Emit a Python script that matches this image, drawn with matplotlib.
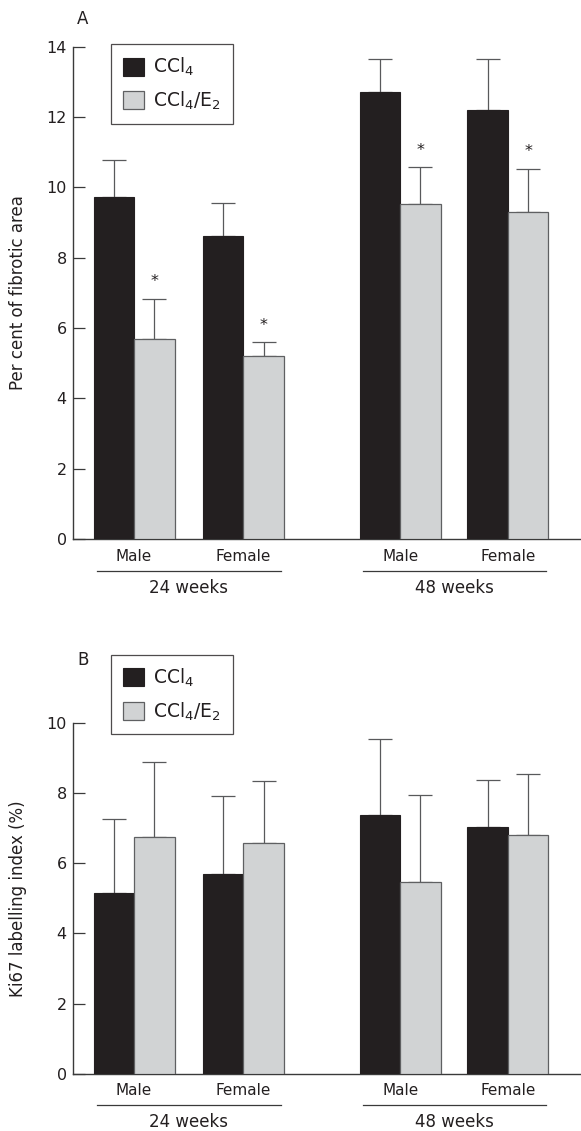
import matplotlib
matplotlib.use("Agg")
import matplotlib.pyplot as plt
import numpy as np
from matplotlib.patches import Patch
from matplotlib.lines import Line2D

plt.rcParams['font.family'] = ['DejaVu Sans']
plt.rcParams['mathtext.fontset'] = 'dejavusans'

# ---------------- data ----------------
groups = ["Male", "Female", "Male", "Female"]
periods = ["24 weeks", "48 weeks"]
series_labels = ["CCl$_4$", "CCl$_4$/E$_2$"]

# Panel A: per cent of fibrotic area
fib_ccl4 = [9.72, 8.61, 12.72, 12.20]
fib_ccl4_err = [1.07, 0.94, 0.92, 1.46]
fib_e2 = [5.69, 5.21, 9.54, 9.30]
fib_e2_err = [1.14, 0.38, 1.03, 1.22]
fib_e2_signif = [True, True, True, True]

# Panel B: Ki67 labelling index (%)
ki_ccl4 = [5.16, 5.69, 7.38, 7.04]
ki_ccl4_err = [2.11, 2.21, 2.15, 1.32]
ki_e2 = [6.74, 6.58, 5.47, 6.79]
ki_e2_err = [2.15, 1.75, 2.46, 1.76]

# ---------------- style ----------------
W, H = 581, 1131
DPI = 100
BLACK = "#231f20"
GRAY = "#d1d3d4"
GRAY_EDGE = "#5f6062"
ERR_COL = "#58595b"
TXT = "#231f20"
FS = 11.5

fig = plt.figure(figsize=(W / DPI, H / DPI), dpi=DPI)

pair_centers = np.array([1.5, 4.2, 8.07, 10.73])
bw = 1.0
XMAX = (581 - 73.3) / 40.5


def px_axes(left_px, top_px, bottom_px):
    return [left_px / W, 1 - bottom_px / H, 1 - left_px / W, (bottom_px - top_px) / H]


def panel(rect, ymax, yticks, v1, e1, v2, e2, signif, ylabel, letter, letter_y_px,
          legend_top_px, axis_px):
    ax = fig.add_axes(rect)
    x1 = pair_centers - bw / 2
    x2 = pair_centers + bw / 2
    ax.bar(x1, v1, width=bw, color=BLACK, edgecolor=BLACK, linewidth=0.8, zorder=3)
    ax.bar(x2, v2, width=bw, color=GRAY, edgecolor=GRAY_EDGE, linewidth=0.9, zorder=3)
    cap_pts = 12.2 * 72 / DPI
    for xs, vs, es in ((x1, v1, e1), (x2, v2, e2)):
        ax.errorbar(xs, vs, yerr=[np.zeros(len(vs)), es], fmt='none', ecolor=ERR_COL,
                    elinewidth=0.9, capsize=cap_pts, capthick=0.9, zorder=2)
    if signif is not None:
        for xi, vi, ei, s in zip(x2, v2, e2, signif):
            if s:
                ax.annotate("*", (xi, vi + ei + 0.7), xytext=(0, -8.5),
                            textcoords="offset points", ha="center", va="baseline",
                            fontsize=FS, color=TXT)
    ax.set_xlim(0, XMAX)
    ax.set_ylim(0, ymax)
    ax.set_yticks(yticks)
    ax.set_xticks([])
    for s in ("top", "right"):
        ax.spines[s].set_visible(False)
    for s in ("left", "bottom"):
        ax.spines[s].set_color("#3a3a3a")
        ax.spines[s].set_linewidth(1.0)
    ax.tick_params(axis="y", direction="in", length=8.5, width=0.9, color="#3a3a3a",
                   pad=4.8, labelsize=FS, labelcolor=TXT)

    ax_h_px = axis_px[1] - axis_px[0]
    bt = ax.get_xaxis_transform()

    def fy(px_below):
        return -px_below / ax_h_px

    for xc, g in zip(pair_centers, groups):
        ax.text(xc, fy(axis_px[2]), g, transform=bt, ha="center", va="center",
                fontsize=11, color=TXT, clip_on=False)
    for k, p in enumerate(periods):
        a, b = pair_centers[2 * k], pair_centers[2 * k + 1]
        ax.add_line(Line2D([a - 0.915, b + 0.93], [fy(axis_px[3])] * 2, transform=bt,
                           color="#3a3a3a", lw=0.9, clip_on=False))
        ax.text((a + b) / 2, fy(axis_px[4]), p, transform=bt, ha="center", va="center",
                fontsize=FS + 0.5, color=TXT, clip_on=False)

    fig.text(18 / W, 1 - (axis_px[0] + axis_px[1]) / 2 / H, ylabel, rotation=90,
             ha="center", va="center", fontsize=FS + 0.5, color=TXT)
    fig.text(83 / W, 1 - letter_y_px / H, letter, ha="center", va="center",
             fontsize=FS + 0.5, color=TXT)

    handles = [Patch(facecolor=BLACK, edgecolor=BLACK, linewidth=0.8),
               Patch(facecolor=GRAY, edgecolor=GRAY_EDGE, linewidth=0.9)]
    leg = fig.legend(handles, series_labels, loc="upper left",
                     bbox_to_anchor=(111 / W, 1 - legend_top_px / H),
                     bbox_transform=fig.transFigure, borderaxespad=0, fancybox=False,
                     frameon=True, edgecolor="#231f20", fontsize=13.5,
                     handlelength=1.12, handleheight=1.1, handletextpad=0.5,
                     labelspacing=0.62, borderpad=0.62, labelcolor=TXT)
    leg.get_frame().set_linewidth(0.9)
    return ax


# axis_px: (top_px, bottom_px, group_label_dy, underline_dy, period_label_dy)
panel(px_axes(73.3, 46.7, 539), 14, [0, 2, 4, 6, 8, 10, 12, 14],
      fib_ccl4, fib_ccl4_err, fib_e2, fib_e2_err, fib_e2_signif,
      "Per cent of fibrotic area", "A", 19.3, 44.3,
      (46.7, 539, 17.7, 32, 49.3))

panel(px_axes(73.3, 722.7, 1074), 10, [0, 2, 4, 6, 8, 10],
      ki_ccl4, ki_ccl4_err, ki_e2, ki_e2_err, None,
      "Ki67 labelling index (%)", "B", 660, 655,
      (722.7, 1074, 16.7, 30.7, 47.7))

fig.savefig("out.png", dpi=DPI)
